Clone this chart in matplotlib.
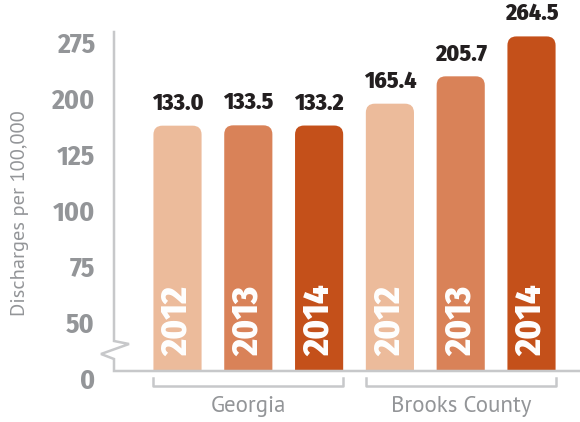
#Hospital discharges, Georgia vs Brooks County

import numpy as np
import matplotlib.pyplot as plt
from matplotlib.patches import FancyBboxPatch
import matplotlib.transforms as mtransforms

groups = ['Georgia', 'Brooks County']
years = ['2012', '2013', '2014']
georgia = [133.0, 133.5, 133.2]
brooks = [165.4, 205.7, 264.5]
ytick_labels = ['0', '50', '75', '100', '125', '200', '275']

colors = ['#ECBB9B', '#D98258', '#C4501A']
gray = '#939598'
line_gray = '#C7C8CA'
narrow = ['Fira Sans Condensed', 'Asap Condensed', 'DejaVu Sans']
regular = ['PT Sans', 'Noto Sans', 'DejaVu Sans']

values = np.array(georgia + brooks)
x = np.arange(len(values))
bar_colors = colors * len(groups)
bar_years = years * len(groups)

fig = plt.figure(figsize=(5.8, 4.22), dpi=100)
ax = fig.add_axes([114 / 580, 52 / 422, 466 / 580, 338 / 422])

# axis is broken: baseline sits well below zero so bars fill the frame
base = -227
top = 271
ax.set_ylim(base, top)
ax.set_xlim(-0.897, 5.685)
ax.axis('off')

bars = ax.bar(x, values - base, bottom=base, width=0.68, color=bar_colors)

# swap plain rectangles for ones with rounded tops
x_per_px = (5.685 + 0.897) / 466
y_per_px = (top - base) / 338
r = 9 * x_per_px
for b in bars:
    b.set_visible(False)
    p = FancyBboxPatch((b.get_x(), b.get_y() - 30), b.get_width(), b.get_height() + 30,
                       boxstyle=f'round,pad=0,rounding_size={r}',
                       mutation_aspect=y_per_px / x_per_px,
                       fc=b.get_facecolor(), ec='none')
    ax.add_patch(p)

for xi, v, yr in zip(x, values, bar_years):
    ax.annotate(f'{v:.1f}', (xi, v), xytext=(0, 8), textcoords='offset points',
                ha='center', va='bottom', fontsize=17, fontweight='heavy',
                color='#231F20', family=narrow)
    ax.annotate(yr, (xi, base), xytext=(0, 10), textcoords='offset points',
                ha='center', va='bottom', rotation=90, fontsize=26,
                fontweight='heavy', color='white', family=narrow)

# y tick labels, evenly spaced as in the original graphic
for i, lab in enumerate(ytick_labels):
    ax.text(-0.041, -0.033 + i * 0.1657, lab, transform=ax.transAxes,
            ha='right', va='center', fontsize=20, fontweight='bold',
            color=gray, family=narrow)

# axis line with zigzag break
px = np.array([114, 114, 129, 101, 114, 114, 580])
py = np.array([32, 341, 344, 354, 359, 371, 371])
ax.plot((px - 114) / 466, (370 - py) / 338, color=line_gray, lw=1.8,
        transform=ax.transAxes, clip_on=False, solid_joinstyle='miter')

# group brackets and labels
trans = mtransforms.blended_transform_factory(ax.transData, ax.transAxes)
n = len(years)
for g, name in enumerate(groups):
    left = bars[g * n].get_x()
    right = bars[g * n + n - 1].get_x() + bars[g * n + n - 1].get_width()
    ax.plot([left, left, right, right], [-0.024, -0.047, -0.047, -0.024],
            color=line_gray, lw=1.8, transform=trans, clip_on=False)
    ax.text((left + right) / 2, -0.109, name, transform=trans, ha='center',
            va='center', fontsize=16.5, color=gray, family=regular)

fig.text(20 / 580, 1 - 213 / 422, 'Discharges per 100,000', rotation=90,
         ha='center', va='center', fontsize=14.7, color=gray, family=regular)

fig.savefig('out.png', dpi=100)
